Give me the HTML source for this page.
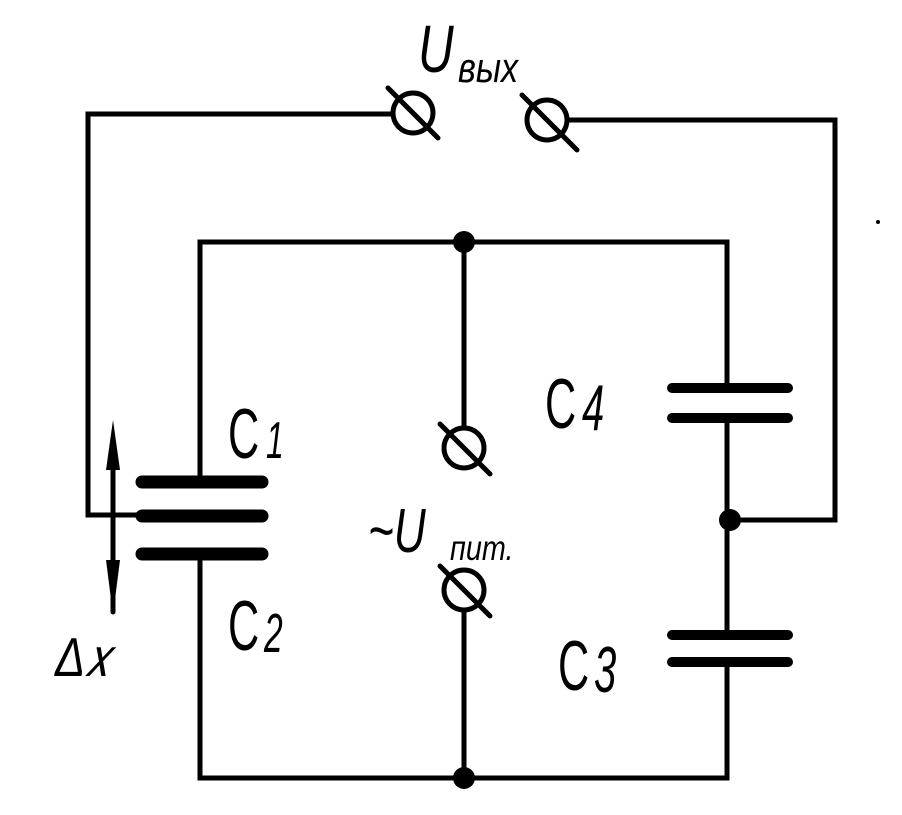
<!DOCTYPE html>
<html><head><style>body{margin:0;background:#fff}svg{display:block}</style></head><body>
<svg width="902" height="815" viewBox="0 0 902 815" xmlns="http://www.w3.org/2000/svg">
<g stroke="#000" stroke-width="5" fill="none" stroke-linecap="round">
<polyline points="392,114 88,114 88,515 140,515"/>
<polyline points="567,120 835,120 835,520 727,520"/>
<polyline points="200,480 200,242 727,242 727,388"/>
<polyline points="200,555 200,778 727,778 727,662"/>
<line x1="727" y1="418" x2="727" y2="635"/>
<line x1="464" y1="242" x2="464" y2="428"/>
<line x1="464" y1="610" x2="464" y2="778"/>
<circle cx="413" cy="113" r="20"/><line x1="388" y1="88" x2="438" y2="138"/>
<circle cx="547" cy="120" r="20"/><line x1="522" y1="95" x2="577" y2="150"/>
<circle cx="464" cy="448" r="20"/><line x1="440" y1="424" x2="490" y2="474"/>
<circle cx="464" cy="590" r="20"/><line x1="440" y1="566" x2="490" y2="616"/>
<line x1="113" y1="440" x2="113" y2="612"/>
</g>
<g stroke="#000" stroke-width="13" stroke-linecap="round">
<line x1="142" y1="482" x2="262" y2="482"/>
<line x1="142" y1="516" x2="262" y2="516"/>
<line x1="142" y1="554" x2="262" y2="554"/>
</g>
<g stroke="#000" stroke-width="10" stroke-linecap="round">
<line x1="672" y1="388" x2="788" y2="388"/>
<line x1="672" y1="418" x2="788" y2="418"/>
<line x1="672" y1="635" x2="788" y2="635"/>
<line x1="672" y1="662" x2="788" y2="662"/>
</g>
<polygon points="113,420 106,470 120,470" fill="#000"/>
<polygon points="113,615 106,560 120,560" fill="#000"/>
<circle cx="464" cy="242" r="11" fill="#000"/>
<circle cx="464" cy="778" r="11" fill="#000"/>
<circle cx="730" cy="520" r="11" fill="#000"/>
<circle cx="878" cy="222" r="2" fill="#000"/>
<g font-family="Liberation Sans, sans-serif" fill="#000">
<text transform="translate(418,72) scale(0.85,1.15)" font-size="58" font-style="italic">U</text>
<text transform="translate(458,82) scale(0.9,1.1)" font-size="38" font-style="italic">вых</text>
<text transform="translate(228,458) scale(0.8,1.3)" font-size="54">C</text>
<text transform="translate(266,458) scale(0.8,1.3)" font-size="40" font-style="italic">1</text>
<text transform="translate(228,650) scale(0.8,1.3)" font-size="54">C</text>
<text transform="translate(264,652) scale(0.8,1.3)" font-size="42" font-style="italic">2</text>
<text transform="translate(545,428) scale(0.8,1.3)" font-size="54">C</text>
<text transform="translate(582,430) scale(0.8,1.3)" font-size="50" font-style="italic">4</text>
<text transform="translate(558,690) scale(0.8,1.3)" font-size="54">C</text>
<text transform="translate(594,692) scale(0.8,1.3)" font-size="50" font-style="italic">3</text>
<text transform="translate(368,552) scale(0.85,1.2)" font-size="52" font-style="italic">~U</text>
<text transform="translate(450,560) scale(0.9,1.1)" font-size="32" font-style="italic">пит.</text>
<text transform="translate(55,676) scale(0.9,1.1)" font-size="50" font-style="italic">Δ𝑥</text>
</g>
</svg>
</body></html>
